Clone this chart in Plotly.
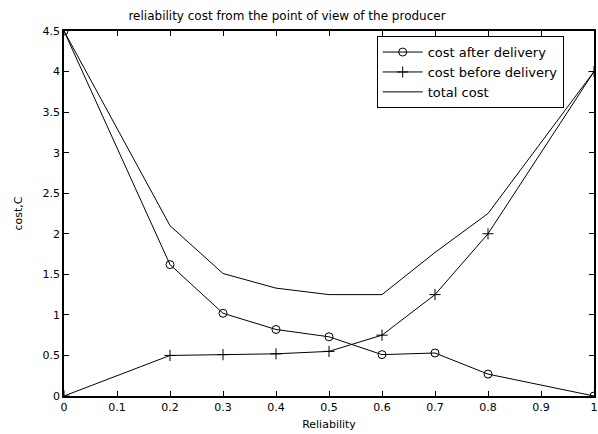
import plotly.graph_objects as go

reliability = [0, 0.2, 0.3, 0.4, 0.5, 0.6, 0.7, 0.8, 1.0]
cost_after = [4.5, 1.62, 1.02, 0.82, 0.73, 0.51, 0.53, 0.27, 0.0]
cost_before = [0.0, 0.5, 0.51, 0.52, 0.55, 0.75, 1.25, 2.0, 4.0]
total_cost = [4.5, 2.1, 1.51, 1.33, 1.25, 1.25, 1.77, 2.25, 4.0]

x_ticks = [0, 0.1, 0.2, 0.3, 0.4, 0.5, 0.6, 0.7, 0.8, 0.9, 1]
y_ticks = [0, 0.5, 1, 1.5, 2, 2.5, 3, 3.5, 4, 4.5]

fig = go.Figure()
fig.add_trace(go.Scatter(x=reliability, y=cost_after, mode="lines+markers",
                         name="cost after delivery",
                         line=dict(color="black", width=1),
                         marker=dict(symbol="circle-open", size=8, color="black", line=dict(width=1))))
fig.add_trace(go.Scatter(x=reliability, y=cost_before, mode="lines+markers",
                         name="cost before delivery",
                         line=dict(color="black", width=1),
                         marker=dict(symbol="cross-thin-open", size=8, color="black", line=dict(width=1))))
fig.add_trace(go.Scatter(x=reliability, y=total_cost, mode="lines",
                         name="total cost",
                         line=dict(color="black", width=1)))

font = "DejaVu Sans, Arial, sans-serif"
fig.update_layout(
    width=598, height=434,
    margin=dict(l=64, r=0, t=31, b=38),
    paper_bgcolor="white", plot_bgcolor="white",
    font=dict(family=font, size=11, color="black"),
    title=dict(text="reliability cost from the point of view of the producer",
               x=0.48, xanchor="center", y=0.963, yanchor="middle",
               font=dict(size=12)),
    showlegend=True,
    legend=dict(x=0.59, y=0.986, xanchor="left", yanchor="top",
                bgcolor="white", bordercolor="black", borderwidth=1,
                font=dict(size=13), tracegroupgap=0, itemwidth=40),
    xaxis=dict(range=[0, 1], tickvals=x_ticks, ticktext=[str(v) for v in x_ticks],
               ticks="inside", ticklen=5, tickcolor="black", mirror="ticks",
               showline=True, linecolor="black", linewidth=1.5,
               showgrid=False, zeroline=False, ticklabeloverflow="allow",
               title=dict(text="Reliability", standoff=7, font=dict(size=11))),
    yaxis=dict(range=[0, 4.5], tickvals=y_ticks, ticktext=[str(v) for v in y_ticks],
               ticks="inside", ticklen=5, tickcolor="black", mirror="ticks",
               showline=True, linecolor="black", linewidth=1.5,
               showgrid=False, zeroline=False,
               title=dict(text="cost,C", standoff=18, font=dict(size=11))),
)

fig.write_html("out.html", config={"displayModeBar": False},
               post_script="document.body.style.margin='0';document.body.style.overflow='hidden';")
